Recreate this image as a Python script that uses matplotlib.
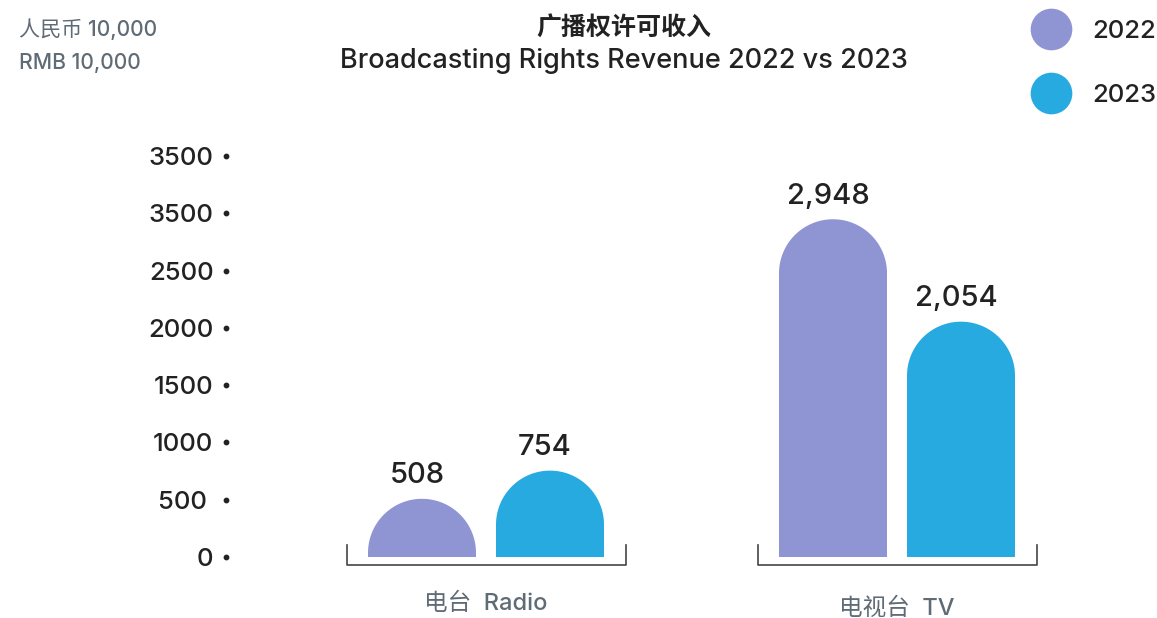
import numpy as np
import matplotlib.pyplot as plt
from matplotlib.path import Path
from matplotlib.patches import PathPatch
from matplotlib.lines import Line2D

plt.rcParams['font.family'] = ['Inter', 'Noto Sans CJK SC', 'DejaVu Sans']

# data
categories = ['电台  Radio', '电视台  TV']
years = ['2022', '2023']
values_2022 = [508, 2948]
values_2023 = [754, 2054]
tick_values = [0, 500, 1000, 1500, 2000, 2500, 3000, 3500]
tick_labels = ['0', '500 ', '1000', '1500', '2000', '2500', '3500', '3500']

colors = ['#8f95d3', '#26aae0']
dark = '#222222'
gray = '#5f6b75'

W, H = 1157, 618
fig = plt.figure(figsize=(W / 100, H / 100), dpi=100)
ax_l, ax_r, ax_b, ax_t = 226, 1100, 557, 156   # axes box in pixels
ax = fig.add_axes([ax_l / W, (H - ax_b) / H, (ax_r - ax_l) / W, (ax_b - ax_t) / H])

grp_px = 411.0                      # pixels between group centres
x0 = -(486 - ax_l) / grp_px
ax.set_xlim(x0, x0 + (ax_r - ax_l) / grp_px)
ax.set_ylim(0, 3500)
ppu = (ax_b - ax_t) / 3500.0        # pixels per y unit

bw = 108 / grp_px
off = 64 / grp_px
ry = 54 / ppu                       # cap radius in y units


def rounded_bar(ax, xc, h, w, ry, color):
    rx = w / 2
    yc = max(h - ry, 0)
    t = np.linspace(np.pi, 0, 60)
    xs = np.concatenate([[xc - rx], xc + rx * np.cos(t), [xc + rx]])
    ys = np.concatenate([[0], yc + ry * np.sin(t), [0]])
    ys = np.minimum(ys, h)
    verts = np.column_stack([np.append(xs, xs[0]), np.append(ys, ys[0])])
    codes = [Path.MOVETO] + [Path.LINETO] * (len(verts) - 2) + [Path.CLOSEPOLY]
    ax.add_patch(PathPatch(Path(verts, codes), facecolor=color, edgecolor='none'))


xpos = np.arange(len(categories))
for i, vals in enumerate([values_2022, values_2023]):
    for x, v in zip(xpos, vals):
        xc = x + (-off if i == 0 else off)
        rounded_bar(ax, xc, v, bw, ry, colors[i])
        ax.annotate(f'{v:,}', (xc - 0.012, v), xytext=(0, 7), textcoords='offset points',
                    ha='center', va='bottom', fontsize=21, fontweight='medium', color=dark)

# brackets under each group
half = 139.5 / grp_px
yb = -8 / ppu
yt = 12 / ppu
label_offsets = [-34, -37]
for x, lab, dy in zip(xpos, categories, label_offsets):
    ax.plot([x - half, x - half, x + half, x + half], [yt, yb, yb, yt],
            color='#444444', lw=1.2, clip_on=False)
    ax.annotate(lab, (x, 0), xytext=(0, dy), textcoords='offset points',
                ha='center', va='center', fontsize=17, fontweight='medium', color=gray)

# y axis: labels with dots
ax.set_yticks(tick_values)
ax.set_yticklabels(tick_labels, fontsize=18.5, fontweight='medium', color=dark)
ax.tick_params(axis='y', length=0, pad=9)
ax.set_xticks([])
ax.scatter(np.zeros(len(tick_values)), tick_values, s=10, color=dark,
           transform=ax.get_yaxis_transform(), clip_on=False)
for s in ax.spines.values():
    s.set_visible(False)

# titles
fig.text(624 / W, 1 - 28 / H, '广播权许可收入', ha='center', va='center',
         fontsize=18, fontweight='bold', color=dark)
fig.text(624 / W, 1 - 61 / H, 'Broadcasting Rights Revenue 2022 vs 2023',
         ha='center', va='center', fontsize=19.5, fontweight='medium', color=dark)
fig.text(19 / W, 1 - 29 / H, '人民币 10,000', ha='left', va='center',
         fontsize=15.2, fontweight='medium', color=gray)
fig.text(19 / W, 1 - 63 / H, 'RMB 10,000', ha='left', va='center',
         fontsize=15.2, fontweight='medium', color=gray)

# legend
handles = [Line2D([], [], marker='o', ls='none', markersize=30,
                  markerfacecolor=c, markeredgecolor='none') for c in colors]
fig.legend(handles, years, loc='upper left', bbox_to_anchor=(1015 / W, 1 + 3 / H),
           frameon=False, handlelength=1.0, handletextpad=1.1, labelspacing=1.6,
           prop={'size': 18.5, 'weight': 'medium'}, labelcolor=dark)

fig.savefig('out.png', dpi=100)
